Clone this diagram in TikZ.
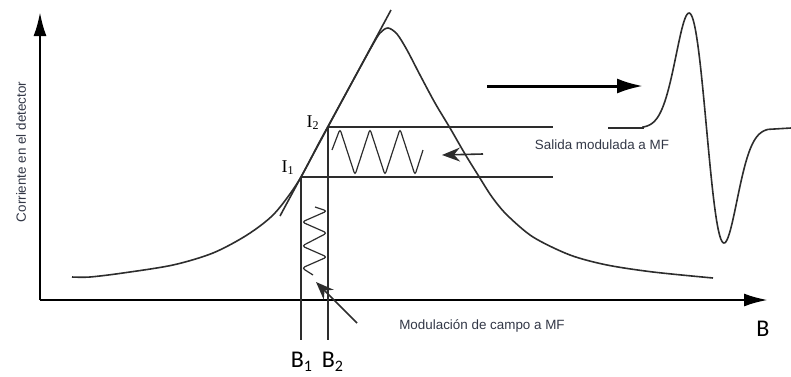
\documentclass[tikz,border=0pt]{standalone}
\usepackage{fontspec}
\setmainfont{Liberation Serif}
\setsansfont{Liberation Sans}
\newfontfamily\carlito{Carlito}
\usetikzlibrary{arrows.meta,positioning}

\begin{document}
\begin{tikzpicture}[
  x=0.5pt, y=-0.5pt,
  >=Latex,
  axis/.style={line width=1.3pt, -{Latex[length=12pt, width=6.5pt]}},
  curve/.style={line width=0.8pt, draw=cline},
  guide/.style={line width=0.6pt, draw=cline},
  wave/.style={line width=0.6pt, draw=cline, rounded corners=1.5pt},
  pointer/.style={line width=0.8pt, draw=cline, -{Stealth[length=9pt, width=7pt, inset=3pt]}},
  bigarrow/.style={line width=1.5pt, -{Latex[length=13pt, width=7.5pt]}},
  small/.style={font=\sffamily\fontsize{6.7}{8}\selectfont, text=ctext, inner sep=0pt},
  blabel/.style={font=\carlito\fontsize{12}{14}\selectfont, inner sep=0pt},
  ilabel/.style={font=\rmfamily\fontsize{9}{10}\selectfont, inner sep=0pt}
]

\definecolor{cline}{RGB}{45,45,45}
\definecolor{ctext}{RGB}{50,55,70}

\useasboundingbox (0,0) rectangle (791,376);

% axes
\coordinate (origin) at (40,300);
\coordinate (ytop) at (40,12);
\coordinate (xend) at (768,300);
\draw[axis] (origin) -- (ytop);
\draw[axis] (origin) -- (xend);

% resonance curve
\draw[curve] plot[smooth, tension=0.5] coordinates {
  (72,277) (90,277) (123,273) (173,265) (213,253) (247,235) (274,214)
  (298,182) (320,141) (350,86) (372,46) (380,33) (388,28) (397,34)
  (407,50) (420,75) (435,103) (450,128) (465,154) (478,175) (492,197)
  (507,215) (533,237) (570,255) (607,265) (653,272) (713,278)};

% tangent and working points
\coordinate (I1) at (301,177);
\coordinate (I2) at (328,127);
\coordinate (tlow) at (280,216);
\coordinate (thigh) at (391,10);
\draw[curve] (tlow) -- (thigh);

\coordinate (I1end) at (553,177);
\coordinate (I2end) at (553,127);
\coordinate (B1end) at (301,340);
\coordinate (B2end) at (328,340);
\draw[guide] (I1) -- (I1end);
\draw[guide] (I2) -- (I2end);
\draw[guide] (I1) -- (B1end);
\draw[guide] (I2) -- (B2end);

% modulation waves
\draw[wave] (332,150) -- (340,129) -- (355,175) -- (370,129) -- (385,175)
  -- (400,129) -- (415,175) -- (423,150);
\draw[wave] (315,207) -- (327,211) -- (302,222) -- (327,233) -- (302,246)
  -- (327,257) -- (302,268) -- (313,275);

% pointers
\coordinate (p1tail) at (483,154);
\coordinate (p1tip) at (442,155);
\coordinate (p2tail) at (357,323);
\coordinate (p2tip) at (316,282);
\draw[pointer] (p1tail) -- (p1tip);
\draw[pointer] (p2tail) -- (p2tip);

\coordinate (atail) at (487,86);
\coordinate (atip) at (643,86);
\draw[bigarrow] (atail) -- (atip);

% derivative signal
\draw[curve] (608,128) -- (643,128)
  -- plot[domain=643:768, samples=120]
     (\x, {128 + 115*((\x-706.5)/17.5)*exp(0.5-0.5*((\x-706.5)/17.5)^2)})
  -- (791,128);

% labels
\node[small, rotate=90] (ylab) at (21,152) {Corriente en el detector};
\node[small] (salida) at (602,145) {Salida modulada a MF};
\node[small] (modul) at (482,326) {Modulación de campo a MF};
\node[blabel] (blab) at (763,329) {B};
\node[blabel] (b1lab) at (302,362) {B\textsubscript{1}};
\node[blabel, right=4pt of b1lab] (b2lab) {B\textsubscript{2}};
\node[ilabel] (i1lab) at (288,168) {I\textsubscript{1}};
\node[ilabel] (i2lab) at (313,123) {I\textsubscript{2}};

\end{tikzpicture}
\end{document}
